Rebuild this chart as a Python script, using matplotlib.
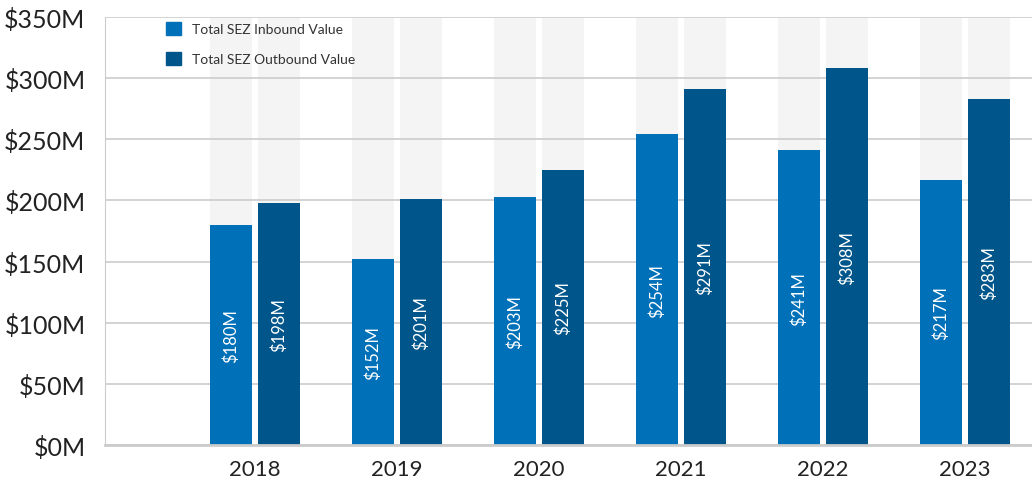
import numpy as np
import matplotlib.pyplot as plt
from matplotlib.patches import Patch

years = ["2018", "2019", "2020", "2021", "2022", "2023"]
inbound = [180, 152, 203, 254, 241, 217]
outbound = [198, 201, 225, 291, 308, 283]
series_names = ["Total SEZ Inbound Value", "Total SEZ Outbound Value"]
colors = ["#0070b8", "#00558a"]

plt.rcParams['font.family'] = ['Lato', 'DejaVu Sans']

fig = plt.figure(figsize=(10.32, 4.81), dpi=100)
ax = fig.add_axes([0.1017, 0.0728, 0.8983, 0.8898])

x = np.arange(len(years))
w = 0.296
off = 0.169
ymax = 350

# light background columns behind every bar
for pos in np.concatenate([x - off, x + off]):
    ax.bar(pos, ymax, width=w, color="#f4f4f4", zorder=0)

for v in range(0, 351, 50):
    ax.axhline(v, color="#cccccc", lw=1.2, zorder=1)

b1 = ax.bar(x - off, inbound, width=w, color=colors[0], zorder=2)
b2 = ax.bar(x + off, outbound, width=w, color=colors[1], zorder=2)

for bars, vals in ((b1, inbound), (b2, outbound)):
    for rect, v in zip(bars, vals):
        ax.text(rect.get_x() + rect.get_width() / 2, v / 2, f"${v}M",
                rotation=90, ha="center", va="center", color="white",
                fontsize=12, zorder=3)

ax.set_xlim(-1.056, 5.47)
ax.set_ylim(0, ymax)
ax.set_yticks(range(0, 351, 50))
ax.set_yticklabels([f"${v}M" for v in range(0, 351, 50)], fontsize=18,
                   color="#222222")
ax.set_xticks(x)
ax.set_xticklabels(years, fontsize=16, color="#222222")
ax.tick_params(axis="both", length=0)
ax.tick_params(axis="y", pad=14)
ax.tick_params(axis="x", pad=10)

for s in ["top", "right"]:
    ax.spines[s].set_visible(False)
ax.spines["left"].set_color("#cccccc")
ax.spines["bottom"].set_color("#cccccc")
ax.spines["bottom"].set_linewidth(2)

handles = [Patch(color=c, label=n) for c, n in zip(colors, series_names)]
leg = ax.legend(handles=handles, loc="upper left", bbox_to_anchor=(0.052, 1.018),
                frameon=False, fontsize=10, handlelength=1.1, handleheight=1.1,
                labelspacing=1.2, handletextpad=0.8)
for t in leg.get_texts():
    t.set_color("#333333")

fig.savefig("out.png", dpi=100)
